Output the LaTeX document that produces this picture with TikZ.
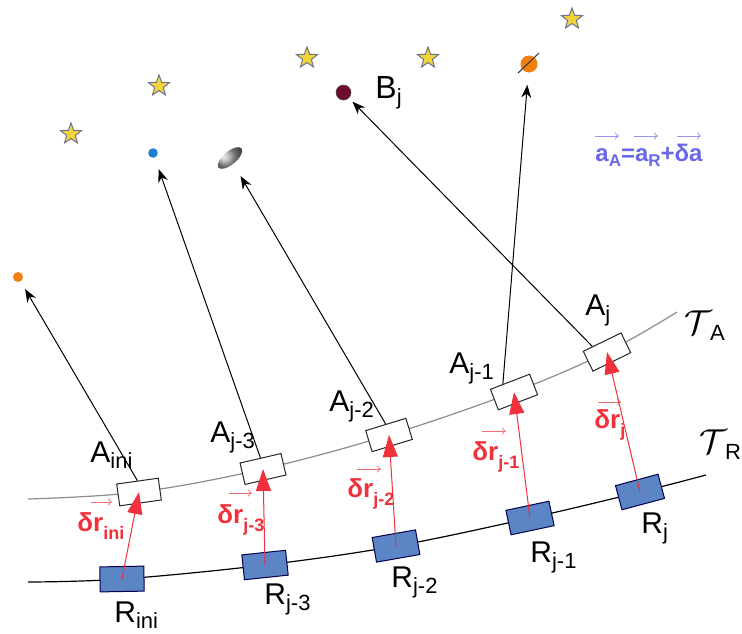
\documentclass[tikz,border=0pt]{standalone}
\usepackage{fontspec}
\setmainfont{Liberation Sans}
\usetikzlibrary{arrows.meta,shapes.geometric,calc}
\definecolor{rblue}{HTML}{5B85C4}
\definecolor{rred}{HTML}{F0303A}
\definecolor{lred}{HTML}{F07070}
\definecolor{fblue}{HTML}{6868E8}
\definecolor{sy}{HTML}{F2D43A}
\definecolor{sg}{HTML}{707090}
\definecolor{dorange}{HTML}{F08010}
\definecolor{dblue}{HTML}{1F7FD0}
\definecolor{dmaroon}{HTML}{6E0B2A}
\newcommand\blsub[2][3pt]{\raisebox{-#1}{\fontsize{11}{11}\selectfont #2}}
\newcommand\rdsub[2][4pt]{\raisebox{-#1}{\fontsize{9}{9}\selectfont\bfseries #2}}
\newcommand\fsub[1]{\raisebox{-2.5pt}{\fontsize{8.5}{8.5}\selectfont\bfseries #1}}
\begin{document}
\begin{tikzpicture}[x=0.5pt,y=-0.5pt,
  abox/.style={draw=black!85, fill=white, line width=0.5pt, minimum width=21pt, minimum height=11pt, inner sep=0pt},
  rbox/.style={draw=black!70!blue, fill=rblue, line width=0.5pt, minimum width=22pt, minimum height=12.5pt, inner sep=0pt},
  lbl/.style={font=\fontsize{15}{15}\selectfont, inner sep=0pt, anchor=base west},
  dlbl/.style={text=rred, font=\fontsize{13}{13}\selectfont\bfseries, inner sep=0pt, anchor=base west},
  redarr/.style={draw=rred, line width=0.5pt, -{Triangle[length=11pt,width=7.5pt]}},
  blkarr/.style={draw=black, line width=0.5pt, -{Stealth[length=6.5pt,width=5pt]}},
  smallarr/.style={draw=lred, line width=0.4pt, -{To[length=2pt,width=3.5pt]}},
  starn/.style={star, star points=5, star point ratio=2.4, minimum size=11pt, inner sep=0pt, fill=sy, draw=sg, line width=0.5pt},
  ptdot/.style={circle, inner sep=0pt, minimum size=#1},
]
\useasboundingbox (0,0) rectangle (742,633);

% trajectories
\draw[black!45, line width=0.6pt] plot[smooth, tension=0.6] coordinates {(28,499) (139,492) (263,469) (389,435) (514,392) (607,352) (677,312)};
\draw[black, line width=0.6pt] plot[smooth, tension=0.6] coordinates {(28,582) (122,579) (265,565) (396,546) (530,518) (640,492) (706,475)};

\node[inner sep=0pt, anchor=base west] (tA) at (684,334) {\fontsize{16}{16}\selectfont$\mathcal{T}$\hspace{-1pt}\blsub[3pt]{A}};
\node[inner sep=0pt, anchor=base west] (tR) at (699,453) {\fontsize{16}{16}\selectfont$\mathcal{T}$\hspace{-1pt}\blsub[3pt]{R}};

% boxes
\node[abox, rotate=8]  (Aini) at (139,492) {};
\node[abox, rotate=13] (Aj3)  at (263,469) {};
\node[abox, rotate=17] (Aj2)  at (389,435) {};
\node[abox, rotate=21] (Aj1)  at (514,392) {};
\node[abox, rotate=26] (Aj)   at (607,352) {};

\node[rbox, rotate=1]  (Rini) at (122,579) {};
\node[rbox, rotate=6]  (Rj3)  at (265,565) {};
\node[rbox, rotate=10] (Rj2)  at (396,546) {};
\node[rbox, rotate=12] (Rj1)  at (530,518) {};
\node[rbox, rotate=15] (Rj)   at (640,492) {};

% labels A
\node[lbl] (lAini) at (90,462) {A\blsub{ini}};
\node[lbl] (lAj3)  at (210,442) {A\blsub{j-3}};
\node[lbl] (lAj2)  at (329,411) {A\blsub{j-2}};
\node[lbl] (lAj1)  at (449,373) {A\blsub{j-1}};
\node[lbl] (lAj)   at (585,315) {A\blsub{j}};
% labels R
\node[lbl] (lRini) at (114,622) {R\blsub{ini}};
\node[lbl] (lRj3)  at (264,604) {R\blsub{j-3}};
\node[lbl] (lRj2)  at (391,587) {R\blsub{j-2}};
\node[lbl] (lRj1)  at (530,562) {R\blsub{j-1}};
\node[lbl] (lRj)   at (641,533) {R\blsub{j}};

% delta r labels
\node[dlbl] (dini) at (77,531) {δr\rdsub{ini}};
\node[dlbl] (dj3)  at (217,523) {δr\rdsub{j-3}};
\node[dlbl] (dj2)  at (347,497) {δr\rdsub{j-2}};
\node[dlbl] (dj1)  at (472,460) {δr\rdsub{j-1}};
\node[dlbl] (dj)   at (594,428) {δr\rdsub{j}};
\draw[smallarr] ([shift={(14,-29)}]dini.base west) -- ++(21,0);
\draw[smallarr] ([shift={(12,-30)}]dj3.base west) -- ++(23,0);
\draw[smallarr] ([shift={(10,-28)}]dj2.base west) -- ++(24,0);
\draw[smallarr] ([shift={(10,-29)}]dj1.base west) -- ++(24,0);
\draw[smallarr] ([shift={(4,-26)}]dj.base west) -- ++(23,0);

% red arrows
\draw[redarr] (Rini.center) -- (Aini.center);
\draw[redarr] (Rj3.center) -- (Aj3.center);
\draw[redarr] (Rj2.center) -- (Aj2.center);
\draw[redarr] (Rj1.center) -- (Aj1.center);
\draw[redarr] (Rj.center) -- (Aj.center);

% stars
\node[starn] (s1) at (71,134) {};
\node[starn] (s2) at (159,86) {};
\node[starn] (s3) at (307,58) {};
\node[starn] (s4) at (428,58) {};
\node[starn] (s5) at (572,19) {};

% targets
\node[ptdot=5pt, fill=dorange] (o1) at (18,277) {};
\node[ptdot=4.8pt, fill=dblue] (b1) at (153,153) {};
\node[ellipse, minimum width=15pt, minimum height=6.5pt, inner sep=0pt, rotate=40, ball color=black!35, shading angle=40] (g1) at (230,158) {};
\node[ptdot=7.5pt, fill=dmaroon, draw=black!70, line width=0.3pt] (Bj) at (343.5,92.5) {};
\node[ptdot=8.5pt, fill=dorange] (o2) at (529,64) {};
\draw[black!80, line width=0.5pt] ([shift={(-11,9)}]o2.center) -- ([shift={(10,-11)}]o2.center);
\node[font=\fontsize{16}{16}\selectfont, inner sep=0pt, anchor=base west] (lBj) at (375,98) {B\blsub{j}};

% black arrows
\draw[blkarr, shorten >=4.3pt] (Aini.north) -- (o1);
\draw[blkarr, shorten >=6pt] (Aj3.north) -- (b1);
\draw[blkarr, shorten >=7pt] (Aj2.north) -- (g1);
\draw[blkarr, shorten >=6pt] ($(Aj1.north)!0.35!(Aj1.north west)$) -- (o2);
\draw[blkarr, shorten >=2.5pt] ($(Aj.north)!0.5!(Aj.north west)$) -- (Bj);

% formula
\node[text=fblue, font=\fontsize{12}{12}\selectfont\bfseries, anchor=base west, inner sep=0pt] (frm) at (595,161) {a\fsub{A}=a\fsub{R}+δa};
\draw[fblue!70, line width=0.4pt, -{To[length=2pt,width=3.5pt]}] ([shift={(0,-25)}]frm.base west) -- ++(24,0);
\draw[fblue!70, line width=0.4pt, -{To[length=2pt,width=3.5pt]}] ([shift={(39,-25)}]frm.base west) -- ++(24,0);
\draw[fblue!70, line width=0.4pt, -{To[length=2pt,width=3.5pt]}] ([shift={(82,-25)}]frm.base west) -- ++(24,0);
\end{tikzpicture}
\end{document}
